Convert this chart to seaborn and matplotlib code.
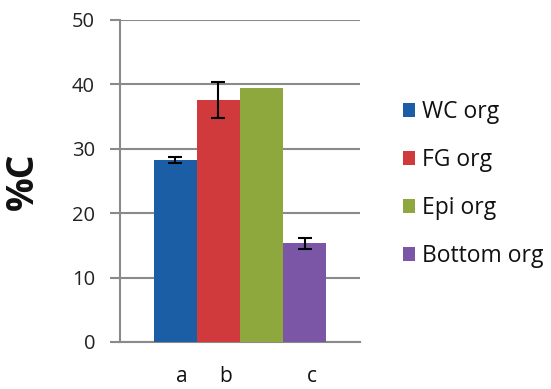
import matplotlib
matplotlib.use("Agg")
import matplotlib.pyplot as plt
import matplotlib.transforms as mtransforms
import seaborn as sns
import pandas as pd
import numpy as np

series = ["WC org", "FG org", "Epi org", "Bottom org"]
values = [28.2, 37.6, 39.4, 15.3]
errors = [0.5, 2.8, 0.0, 0.8]
letters = ["a", "b", "", "c"]
colors = ["#1B5EA6", "#D03A3C", "#8FA83E", "#7B56A6"]
yticks = [0, 10, 20, 30, 40, 50]

sns.set_theme(style="white")
plt.rcParams["font.family"] = ["Open Sans", "DejaVu Sans"]

df = pd.DataFrame({"grp": ["g"] * len(series), "series": series, "value": values})

fig = plt.figure(figsize=(5.51, 3.89), dpi=100)
ax = fig.add_axes([0.218, 0.121, 0.435, 0.828])

sns.barplot(data=df, x="grp", y="value", hue="series", hue_order=series,
            palette=colors, width=0.72, saturation=1, errorbar=None,
            edgecolor="none", linewidth=0, ax=ax, legend=True, zorder=3)

ax.set_xlim(-0.5, 0.5)
ax.set_ylim(0, 50)
ax.set_yticks(yticks)
ax.set_yticklabels([str(t) for t in yticks], fontsize=14.5, color="#222222")
ax.set_xticks([])
ax.set_xlabel("")
ax.grid(axis="y", color="#8a8a8a", linewidth=1.5, zorder=0)
ax.set_axisbelow(True)
for s in ["top", "right"]:
    ax.spines[s].set_visible(False)
for s in ["left", "bottom"]:
    ax.spines[s].set_color("#8a8a8a")
    ax.spines[s].set_linewidth(1.5)
ax.tick_params(axis="y", which="both", left=True, length=7, width=1.5,
               color="#8a8a8a", pad=11, direction="out")

ax.set_ylabel("%C", fontsize=27, fontweight="bold", color="#111111")
ax.yaxis.set_label_coords(-0.325, 0.5)

bars = [p for p in ax.patches if p.get_height() > 0][:len(series)]
bars = sorted(bars, key=lambda p: p.get_x())
for p, v, e in zip(bars, values, errors):
    cx = p.get_x() + p.get_width() / 2
    if e > 0:
        ax.errorbar(cx, v, yerr=e, fmt="none", ecolor="black",
                    elinewidth=1.5, capsize=5, capthick=1.5, zorder=5)

trans = mtransforms.blended_transform_factory(ax.transData, ax.transAxes)
shift = mtransforms.ScaledTranslation(7 / 100, 0, fig.dpi_scale_trans)
for p, lab in zip(bars, letters):
    if lab:
        cx = p.get_x() + p.get_width() / 2
        ax.text(cx, -0.125, lab, transform=trans + shift, ha="center",
                va="baseline", fontsize=15, color="#111111", clip_on=False)

handles, labels = ax.get_legend_handles_labels()
ax.legend_.remove()
fig.legend(handles, labels, loc="center left", bbox_to_anchor=(0.731, 0.526),
           frameon=False, fontsize=16.5, handlelength=0.55, handleheight=0.55,
           handletextpad=0.3, labelspacing=1.05, borderpad=0, borderaxespad=0,
           labelcolor="#111111")

fig.savefig("out.png", dpi=100)
